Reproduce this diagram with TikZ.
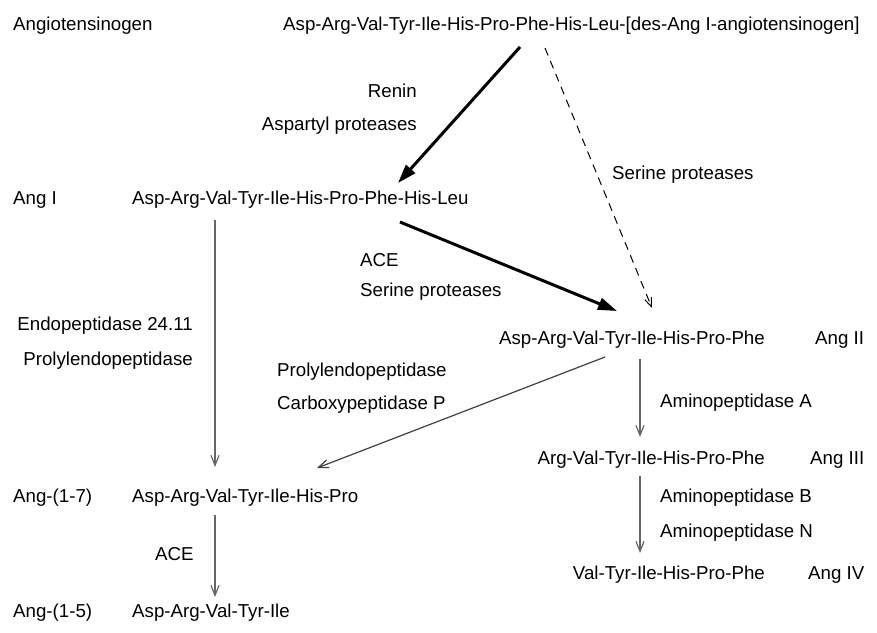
\documentclass[tikz,border=0pt]{standalone}
\usepackage{fontspec}
\setmainfont{Liberation Sans}
\usetikzlibrary{arrows.meta}

\begin{document}
\begin{tikzpicture}[x=1pt, y=-1pt,
    txt/.style={inner sep=0pt, font=\fontsize{18.7}{22}\selectfont},
    lt/.style={txt, anchor=base west},
    rt/.style={txt, anchor=base east},
    bigarrow/.style={line width=3pt, -{Triangle[length=19pt,width=12pt]}},
    smallarrow/.style={line width=1.2pt, draw=black!60, -{Straight Barb[length=10pt,width=8pt]}},
    dasharrow/.style={line width=1pt, dash pattern=on 8pt off 6pt, -{Straight Barb[length=9pt,width=7pt]}}]
    \useasboundingbox (0,0) rectangle (877,632);
    \node[lt] (angio) at (13,30) {Angiotensinogen};
    \node[lt] (toppep) at (283,30) {Asp-Arg-Val-Tyr-Ile-His-Pro-Phe-His-Leu-[des-Ang I-angiotensinogen]};
    \node[rt] (renin) at (417,97) {Renin};
    \node[rt] (aspartyl) at (417,130) {Aspartyl proteases};
    \node[lt] (serine1) at (612,179) {Serine proteases};
    \node[lt] (angI) at (13,204) {Ang I};
    \node[lt] (angIpep) at (132,204) {Asp-Arg-Val-Tyr-Ile-His-Pro-Phe-His-Leu};
    \node[lt] (ace1) at (360,266) {ACE};
    \node[lt] (serine2) at (360,296) {Serine proteases};
    \node[rt] (endo) at (193,330) {Endopeptidase 24.11};
    \node[rt] (prolyl1) at (193,365) {Prolylendopeptidase};
    \node[rt] (angIIpep) at (765,344) {Asp-Arg-Val-Tyr-Ile-His-Pro-Phe};
    \node[lt] (angII) at (815,344) {Ang II};
    \node[lt] (prolyl2) at (277,376) {Prolylendopeptidase};
    \node[lt] (carboxy) at (277,409) {Carboxypeptidase P};
    \node[lt] (aminoA) at (660,407) {Aminopeptidase A};
    \node[rt] (angIIIpep) at (765,464) {Arg-Val-Tyr-Ile-His-Pro-Phe};
    \node[lt] (angIII) at (810,464) {Ang III};
    \node[lt] (aminoB) at (660,502) {Aminopeptidase B};
    \node[lt] (aminoN) at (660,537) {Aminopeptidase N};
    \node[rt] (angIVpep) at (765,579) {Val-Tyr-Ile-His-Pro-Phe};
    \node[lt] (angIV) at (808,579) {Ang IV};
    \node[lt] (ang17) at (13,502) {Ang-(1-7)};
    \node[lt] (ang17pep) at (132,502) {Asp-Arg-Val-Tyr-Ile-His-Pro};
    \node[lt] (ace2) at (155,560) {ACE};
    \node[lt] (ang15) at (13,617) {Ang-(1-5)};
    \node[lt] (ang15pep) at (132,617) {Asp-Arg-Val-Tyr-Ile};

    \draw[bigarrow] ([xshift=237pt,yshift=-17pt]toppep.base west) -- ([xshift=266pt,yshift=21pt]angIpep.base west);
    \draw[dasharrow] ([xshift=262pt,yshift=-18pt]toppep.base west) -- ([xshift=-113pt,yshift=36pt]angIIpep.base east);
    \draw[bigarrow] ([xshift=268pt,yshift=-18pt]angIpep.base west) -- ([xshift=-148pt,yshift=33pt]angIIpep.base east);
    \draw[smallarrow] ([xshift=83pt,yshift=-16pt]angIpep.base west) -- ([xshift=83pt,yshift=35pt]ang17pep.base west);
    \draw[smallarrow, draw=black!75] ([xshift=-160pt,yshift=-13pt]angIIpep.base east) -- ([xshift=185pt,yshift=34pt]ang17pep.base west);
    \draw[smallarrow] ([xshift=-125pt,yshift=-15pt]angIIpep.base east) -- ([xshift=-125pt,yshift=27pt]angIIIpep.base east);
    \draw[smallarrow] ([xshift=-125pt,yshift=-12pt]angIIIpep.base east) -- ([xshift=-125pt,yshift=26pt]angIVpep.base east);
    \draw[smallarrow] ([xshift=83pt,yshift=-13pt]ang17pep.base west) -- ([xshift=83pt,yshift=20pt]ang15pep.base west);
\end{tikzpicture}
\end{document}
